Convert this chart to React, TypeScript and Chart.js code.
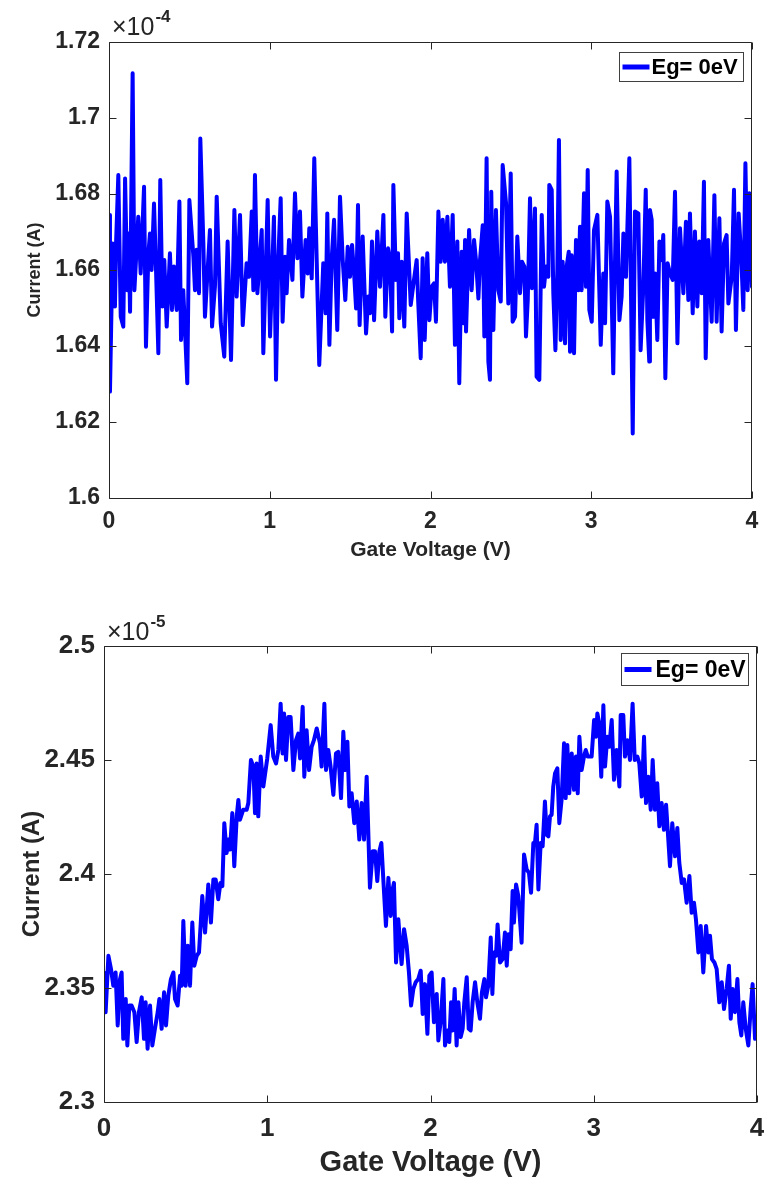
import React, { useEffect, useRef } from "react";
import { Chart, registerables } from "chart.js";

Chart.register(...registerables);

// ---------- DATA ----------
// Top panel: current in units of 1e-4 A
const topVoltage = [
  0, 0.006, 0.023, 0.037, 0.044, 0.058, 0.073, 0.089, 0.1, 0.114, 0.122, 0.131, 0.147, 0.158, 0.182, 0.197, 0.218, 0.23, 0.245, 0.255,
  0.265, 0.28, 0.292, 0.307, 0.319, 0.332, 0.344, 0.359, 0.379, 0.392, 0.404, 0.421, 0.438, 0.448, 0.462, 0.487, 0.5, 0.525, 0.535, 0.545,
  0.56, 0.568, 0.587, 0.597, 0.628, 0.641, 0.659, 0.67, 0.695, 0.717, 0.738, 0.759, 0.78, 0.794, 0.815, 0.832, 0.856, 0.871, 0.888, 0.898,
  0.908, 0.923, 0.95, 0.96, 0.987, 1.002, 1.026, 1.039, 1.053, 1.068, 1.08, 1.095, 1.105, 1.12, 1.141, 1.157, 1.172, 1.188, 1.203, 1.223,
  1.236, 1.246, 1.261, 1.277, 1.292, 1.308, 1.333, 1.348, 1.358, 1.371, 1.385, 1.4, 1.42, 1.437, 1.454, 1.47, 1.485, 1.499, 1.512, 1.526,
  1.537, 1.549, 1.559, 1.578, 1.599, 1.613, 1.624, 1.636, 1.649, 1.669, 1.686, 1.707, 1.719, 1.736, 1.748, 1.761, 1.769, 1.785, 1.798, 1.806,
  1.821, 1.837, 1.852, 1.877, 1.897, 1.914, 1.924, 1.939, 1.951, 1.964, 1.98, 1.993, 2.007, 2.022, 2.034, 2.049, 2.063, 2.076, 2.09, 2.105,
  2.121, 2.138, 2.152, 2.167, 2.179, 2.194, 2.204, 2.215, 2.221, 2.24, 2.256, 2.271, 2.283, 2.298, 2.308, 2.325, 2.335, 2.349, 2.36, 2.37,
  2.378, 2.391, 2.407, 2.422, 2.437, 2.449, 2.47, 2.484, 2.499, 2.511, 2.526, 2.54, 2.557, 2.569, 2.584, 2.594, 2.605, 2.619, 2.631, 2.65,
  2.66, 2.677, 2.692, 2.706, 2.719, 2.733, 2.739, 2.754, 2.764, 2.777, 2.789, 2.799, 2.81, 2.822, 2.837, 2.847, 2.86, 2.868, 2.878, 2.893,
  2.905, 2.92, 2.93, 2.94, 2.955, 2.967, 2.978, 2.988, 3.003, 3.017, 3.038, 3.059, 3.075, 3.086, 3.1, 3.117, 3.137, 3.148, 3.158, 3.175,
  3.189, 3.2, 3.216, 3.237, 3.258, 3.272, 3.293, 3.307, 3.324, 3.339, 3.349, 3.361, 3.365, 3.376, 3.386, 3.397, 3.411, 3.424, 3.438, 3.448,
  3.461, 3.475, 3.49, 3.507, 3.521, 3.536, 3.552, 3.573, 3.589, 3.604, 3.614, 3.631, 3.645, 3.66, 3.672, 3.687, 3.701, 3.712, 3.728, 3.749,
  3.766, 3.78, 3.797, 3.811, 3.826, 3.842, 3.853, 3.874, 3.888, 3.9, 3.917, 3.934, 3.946, 3.959, 3.973, 3.983, 4.0,
];
const topCurrent = [
  1.6745, 1.628, 1.667, 1.6504, 1.667, 1.685, 1.6477, 1.6451, 1.6841, 1.6547, 1.6696, 1.649, 1.7118, 1.6547, 1.674, 1.6591, 1.6819, 1.6398, 1.6644, 1.6696,
  1.66, 1.6775, 1.6609, 1.6381, 1.6837, 1.6504, 1.6626, 1.6451, 1.6644, 1.6495, 1.6609, 1.6495, 1.678, 1.6416, 1.6547, 1.6302, 1.6784, 1.6635, 1.6547, 1.6653,
  1.6539, 1.6946, 1.667, 1.6477, 1.6705, 1.6451, 1.6556, 1.6793, 1.646, 1.6372, 1.6675, 1.6363, 1.6758, 1.653, 1.6745, 1.6455, 1.6618, 1.6582, 1.6754, 1.6547,
  1.685, 1.6539, 1.6705, 1.6381, 1.6784, 1.6425, 1.674, 1.6311, 1.6626, 1.6789, 1.6464, 1.6635, 1.6539, 1.6679, 1.6574, 1.6802, 1.6631, 1.6754, 1.653, 1.6679,
  1.6591, 1.671, 1.6578, 1.6894, 1.6626, 1.635, 1.6618, 1.6486, 1.6749, 1.6403, 1.6626, 1.6732, 1.6442, 1.6793, 1.6626, 1.6521, 1.6661, 1.6582, 1.6666, 1.6582,
  1.6499, 1.6771, 1.6455, 1.6688, 1.6433, 1.653, 1.6486, 1.6675, 1.6468, 1.6701, 1.6556, 1.6745, 1.6477, 1.6657, 1.6626, 1.6438, 1.6824, 1.6574, 1.6644, 1.6473,
  1.6622, 1.6451, 1.6749, 1.6508, 1.6574, 1.6626, 1.6512, 1.6368, 1.6631, 1.6416, 1.6644, 1.6468, 1.6556, 1.6565, 1.6464, 1.6754, 1.6622, 1.6732, 1.6622, 1.674,
  1.6556, 1.6745, 1.6403, 1.6675, 1.6302, 1.6648, 1.646, 1.6679, 1.6438, 1.6705, 1.6547, 1.6679, 1.6626, 1.6525, 1.6626, 1.6718, 1.6425, 1.6894, 1.6359, 1.6311,
  1.6806, 1.6442, 1.6758, 1.6547, 1.6517, 1.6876, 1.6775, 1.6512, 1.6854, 1.6464, 1.6477, 1.6688, 1.6539, 1.6622, 1.6609, 1.6425, 1.6521, 1.6789, 1.6552, 1.6762,
  1.6319, 1.6311, 1.6745, 1.6556, 1.6609, 1.6582, 1.6824, 1.6811, 1.6539, 1.6389, 1.66, 1.6942, 1.6416, 1.6622, 1.6407, 1.6609, 1.6648, 1.6385, 1.6639, 1.6381,
  1.6679, 1.6547, 1.6714, 1.6547, 1.6802, 1.6556, 1.6863, 1.6495, 1.6464, 1.6705, 1.6745, 1.6403, 1.6591, 1.646, 1.678, 1.674, 1.6328, 1.6626, 1.6859, 1.6468,
  1.653, 1.6696, 1.6582, 1.6894, 1.617, 1.6754, 1.6749, 1.6389, 1.6556, 1.6811, 1.6468, 1.6359, 1.6758, 1.6732, 1.6477, 1.6591, 1.6416, 1.6675, 1.6626, 1.6692,
  1.6315, 1.6618, 1.6591, 1.6574, 1.6806, 1.6407, 1.671, 1.6539, 1.6727, 1.6521, 1.6749, 1.6486, 1.6701, 1.6504, 1.6675, 1.6539, 1.6832, 1.6368, 1.6679, 1.6464,
  1.6797, 1.6464, 1.6736, 1.6438, 1.667, 1.6692, 1.6512, 1.6582, 1.6811, 1.6442, 1.6749, 1.6626, 1.6495, 1.6881, 1.6547, 1.6802, 1.6556,
];

// Bottom panel: current in units of 1e-5 A
const bottomVoltage = [
  0, 0.01, 0.027, 0.043, 0.057, 0.071, 0.084, 0.098, 0.108, 0.118, 0.133, 0.143, 0.155, 0.169, 0.186, 0.2, 0.214, 0.231, 0.245, 0.255,
  0.267, 0.282, 0.296, 0.312, 0.329, 0.339, 0.353, 0.368, 0.38, 0.394, 0.41, 0.425, 0.435, 0.451, 0.466, 0.476, 0.486, 0.5, 0.513, 0.527,
  0.541, 0.553, 0.568, 0.582, 0.594, 0.602, 0.619, 0.639, 0.655, 0.67, 0.684, 0.7, 0.713, 0.725, 0.737, 0.751, 0.762, 0.772, 0.786, 0.798,
  0.813, 0.823, 0.833, 0.853, 0.874, 0.884, 0.9, 0.915, 0.925, 0.935, 0.945, 0.96, 0.976, 1.0, 1.021, 1.037, 1.054, 1.068, 1.082, 1.094,
  1.103, 1.115, 1.129, 1.143, 1.16, 1.176, 1.19, 1.201, 1.217, 1.227, 1.241, 1.256, 1.272, 1.286, 1.303, 1.323, 1.333, 1.35, 1.36, 1.374,
  1.388, 1.405, 1.421, 1.435, 1.452, 1.466, 1.478, 1.491, 1.503, 1.517, 1.533, 1.548, 1.564, 1.578, 1.593, 1.609, 1.629, 1.646, 1.66, 1.674,
  1.687, 1.699, 1.711, 1.727, 1.742, 1.756, 1.768, 1.776, 1.789, 1.803, 1.813, 1.823, 1.838, 1.854, 1.868, 1.881, 1.895, 1.909, 1.925, 1.94,
  1.952, 1.966, 1.981, 1.993, 2.007, 2.021, 2.038, 2.048, 2.062, 2.079, 2.089, 2.103, 2.115, 2.126, 2.136, 2.148, 2.16, 2.171, 2.185, 2.197,
  2.207, 2.222, 2.234, 2.246, 2.258, 2.273, 2.287, 2.303, 2.315, 2.33, 2.34, 2.354, 2.369, 2.379, 2.389, 2.401, 2.411, 2.426, 2.442, 2.456,
  2.467, 2.477, 2.491, 2.503, 2.511, 2.524, 2.538, 2.558, 2.573, 2.589, 2.603, 2.616, 2.63, 2.64, 2.65, 2.661, 2.675, 2.687, 2.701, 2.712,
  2.722, 2.732, 2.742, 2.752, 2.763, 2.777, 2.789, 2.803, 2.818, 2.828, 2.838, 2.85, 2.865, 2.879, 2.891, 2.902, 2.912, 2.926, 2.94, 2.951,
  2.963, 2.987, 3.002, 3.014, 3.022, 3.034, 3.046, 3.059, 3.069, 3.083, 3.095, 3.11, 3.124, 3.14, 3.157, 3.165, 3.181, 3.191, 3.206, 3.222,
  3.238, 3.251, 3.267, 3.279, 3.294, 3.308, 3.32, 3.334, 3.349, 3.361, 3.375, 3.389, 3.402, 3.416, 3.43, 3.443, 3.453, 3.467, 3.481, 3.498,
  3.512, 3.524, 3.539, 3.553, 3.569, 3.586, 3.6, 3.614, 3.626, 3.641, 3.655, 3.671, 3.688, 3.702, 3.712, 3.724, 3.739, 3.753, 3.769, 3.784,
  3.798, 3.814, 3.828, 3.839, 3.851, 3.865, 3.88, 3.892, 3.904, 3.916, 3.931, 3.947, 3.961, 3.973, 3.988, 4.0,
];
const bottomCurrent = [
  2.3568, 2.3394, 2.3641, 2.3583, 2.351, 2.3568, 2.3336, 2.3539, 2.3568, 2.3277, 2.3452, 2.3248, 2.3423, 2.3423, 2.3394, 2.3263, 2.3394, 2.3459, 2.3277, 2.3437,
  2.3234, 2.3423, 2.3248, 2.3321, 2.3394, 2.3452, 2.3321, 2.3481, 2.3336, 2.3467, 2.3539, 2.3568, 2.3452, 2.3423, 2.3554, 2.351, 2.3794, 2.351, 2.3685, 2.351,
  2.3787, 2.3598, 2.3641, 2.3656, 2.3801, 2.3903, 2.3743, 2.3954, 2.3787, 2.3976, 2.3976, 2.3889, 2.3961, 2.3947, 2.4223, 2.4092, 2.4151, 2.4107, 2.4267, 2.4034,
  2.4253, 2.4325, 2.4238, 2.4282, 2.4282, 2.4311, 2.45, 2.4471, 2.4267, 2.4485, 2.4253, 2.4515, 2.4384, 2.4507, 2.4653, 2.4515, 2.4485, 2.4544, 2.4747, 2.4529,
  2.4704, 2.45, 2.4689, 2.4689, 2.4456, 2.4587, 2.4616, 2.4507, 2.4733, 2.4427, 2.4631, 2.4456, 2.4558, 2.4587, 2.4638, 2.4573, 2.4471, 2.4747, 2.4456, 2.4544,
  2.4471, 2.4347, 2.4529, 2.4536, 2.4333, 2.4624, 2.4456, 2.458, 2.4296, 2.4354, 2.4223, 2.4318, 2.4151, 2.4311, 2.4151, 2.4427, 2.394, 2.41, 2.41, 2.3969,
  2.41, 2.4136, 2.3976, 2.3772, 2.3983, 2.3816, 2.3932, 2.3961, 2.3612, 2.3801, 2.3699, 2.3605, 2.3758, 2.3685, 2.3568, 2.3423, 2.3496, 2.3525, 2.3539, 2.3576,
  2.3386, 2.3517, 2.3299, 2.3554, 2.3568, 2.335, 2.3474, 2.327, 2.335, 2.3539, 2.3248, 2.3314, 2.3263, 2.3437, 2.3314, 2.3496, 2.3248, 2.3437, 2.3285, 2.3321,
  2.3437, 2.3547, 2.3321, 2.3314, 2.3437, 2.3525, 2.3437, 2.3365, 2.3481, 2.3539, 2.3459, 2.351, 2.3721, 2.3474, 2.3656, 2.3641, 2.3779, 2.3612, 2.3627, 2.3743,
  2.3598, 2.3736, 2.367, 2.3925, 2.3787, 2.3954, 2.3903, 2.3699, 2.4085, 2.402, 2.4005, 2.3918, 2.4136, 2.4136, 2.4216, 2.3932, 2.4136, 2.4122, 2.4318, 2.4172,
  2.4165, 2.4253, 2.426, 2.4384, 2.4442, 2.4464, 2.4223, 2.4325, 2.4573, 2.4333, 2.4566, 2.4354, 2.4529, 2.4369, 2.4515, 2.4354, 2.4602, 2.4456, 2.4515, 2.4544,
  2.4515, 2.4515, 2.4675, 2.4602, 2.4704, 2.466, 2.4427, 2.474, 2.4471, 2.4602, 2.4558, 2.4675, 2.4413, 2.4544, 2.4384, 2.4697, 2.4697, 2.4515, 2.4587, 2.45,
  2.4747, 2.45, 2.4515, 2.4485, 2.434, 2.4602, 2.4311, 2.4427, 2.4282, 2.45, 2.4282, 2.4398, 2.4209, 2.4311, 2.4194, 2.4304, 2.4194, 2.4034, 2.4223, 2.4078,
  2.4202, 2.4049, 2.3961, 2.3976, 2.3874, 2.3991, 2.383, 2.3874, 2.3801, 2.3656, 2.3772, 2.3568, 2.3772, 2.3656, 2.3729, 2.3627, 2.3612, 2.3583, 2.3437, 2.3525,
  2.3408, 2.3496, 2.3598, 2.3365, 2.3496, 2.3394, 2.3539, 2.335, 2.3292, 2.3437, 2.3321, 2.3248, 2.3408, 2.3517, 2.3277, 2.3321,
];

const xTicks = [0, 1, 2, 3, 4];
const xTickLabels = ["0", "1", "2", "3", "4"];
const topYTicks = [1.6, 1.62, 1.64, 1.66, 1.68, 1.7, 1.72];
const topYTickLabels = ["1.6", "1.62", "1.64", "1.66", "1.68", "1.7", "1.72"];
const bottomYTicks = [2.3, 2.35, 2.4, 2.45, 2.5];
const bottomYTickLabels = ["2.3", "2.35", "2.4", "2.45", "2.5"];
const seriesLabel = "Eg= 0eV";
const xTitle = "Gate Voltage (V)";
const yTitle = "Current (A)";
const topExponent = "-4";
const bottomExponent = "-5";

// ---------- STYLE ----------
const FONT = "'Liberation Sans', Arial, Helvetica, sans-serif";
const AXIS_COLOR = "#262626";
const LINE_COLOR = "#0000ff";

const matlabPlugin = {
  id: "matlabAxes",
  afterDraw(chart: any) {
    const o = chart.options.plugins.matlabAxes;
    const { ctx, chartArea: a } = chart;
    const xS = chart.scales.x;
    const yS = chart.scales.y;
    const L = Math.round(a.left) + 0.5;
    const R = Math.round(a.right) - 0.5;
    const T = Math.round(a.top) + 0.5;
    const B = Math.round(a.bottom) + 0.5;
    ctx.save();
    ctx.strokeStyle = AXIS_COLOR;
    ctx.lineWidth = 1;
    ctx.beginPath();
    ctx.rect(L, T, R - L, B - T);
    xS.ticks.forEach((t: any) => {
      const p = Math.round(xS.getPixelForValue(t.value)) + 0.5;
      ctx.moveTo(p, B);
      ctx.lineTo(p, B - o.tickLen);
      ctx.moveTo(p, T);
      ctx.lineTo(p, T + o.tickLen);
    });
    yS.ticks.forEach((t: any) => {
      const p = Math.round(yS.getPixelForValue(t.value)) + 0.5;
      ctx.moveTo(L, p);
      ctx.lineTo(L + o.tickLen, p);
      ctx.moveTo(R, p);
      ctx.lineTo(R - o.tickLen, p);
    });
    ctx.stroke();

    // exponent label
    ctx.fillStyle = AXIS_COLOR;
    ctx.textAlign = "left";
    ctx.textBaseline = "alphabetic";
    ctx.font = `${o.expSize}px ${FONT}`;
    const base = "\u00d710";
    const ex = a.left + o.expDx;
    const ey = a.top - o.expDy;
    ctx.fillText(base, ex, ey);
    const bw = ctx.measureText(base).width;
    ctx.font = `bold ${o.supSize}px ${FONT}`;
    ctx.fillText(o.exponent, ex + bw + 1, ey - o.supRise);

    // legend
    const ds = chart.data.datasets[0];
    ctx.font = `bold ${o.legendSize}px ${FONT}`;
    const tw = ctx.measureText(ds.label).width;
    const sample = 27;
    const boxW = Math.round(3 + sample + o.legendGap + tw + o.legendPadR);
    const bx = Math.round(a.right - o.legendRight - boxW) + 0.5;
    const by = Math.round(a.top + o.legendTop) + 0.5;
    ctx.fillStyle = "#ffffff";
    ctx.fillRect(bx, by, boxW, o.legendH);
    ctx.strokeStyle = "#404040";
    ctx.lineWidth = 1;
    ctx.strokeRect(bx, by, boxW, o.legendH);
    const cy = by + o.legendH / 2;
    ctx.strokeStyle = ds.borderColor;
    ctx.lineWidth = o.legendLineW;
    ctx.beginPath();
    ctx.moveTo(bx + 3, cy);
    ctx.lineTo(bx + 3 + sample, cy);
    ctx.stroke();
    ctx.fillStyle = "#000000";
    ctx.textBaseline = "middle";
    ctx.fillText(ds.label, bx + 3 + sample + o.legendGap, cy + 1);
    ctx.restore();
  },
};

type PanelSpec = {
  xs: number[];
  ys: number[];
  yMin: number;
  yMax: number;
  yTicks: number[];
  yTickLabels: string[];
  width: number;
  height: number;
  padding: { left: number; top: number; right: number; bottom: number };
  yAxisWidth: number;
  xAxisHeight: number;
  tickFont: number;
  xTickPad: number;
  yTickPad: number;
  xTitleFont: number;
  yTitleFont: number;
  lineWidth: number;
  frame: any;
};

function Panel({ spec }: { spec: PanelSpec }) {
  const ref = useRef<HTMLCanvasElement | null>(null);
  useEffect(() => {
    if (!ref.current) return;
    const points = spec.xs.map((x, i) => ({ x, y: spec.ys[i] }));
    const chart = new Chart(ref.current, {
      type: "line",
      data: {
        datasets: [
          {
            label: seriesLabel,
            data: points,
            borderColor: LINE_COLOR,
            backgroundColor: LINE_COLOR,
            borderWidth: spec.lineWidth,
            pointRadius: 0,
            tension: 0,
            borderJoinStyle: "round",
            borderCapStyle: "round",
            fill: false,
          },
        ],
      },
      options: {
        animation: false,
        responsive: false,
        devicePixelRatio: 1,
        layout: { padding: spec.padding },
        plugins: {
          legend: { display: false },
          tooltip: { enabled: false },
          matlabAxes: spec.frame,
        } as any,
        scales: {
          x: {
            type: "linear",
            position: "bottom",
            min: 0,
            max: 4,
            afterBuildTicks: (s: any) => {
              s.ticks = xTicks.map((v) => ({ value: v }));
            },
            afterFit: (s: any) => {
              s.height = spec.xAxisHeight;
              s.paddingLeft = 0;
              s.paddingRight = 0;
            },
            ticks: {
              autoSkip: false,
              maxRotation: 0,
              padding: spec.xTickPad,
              color: AXIS_COLOR,
              font: { family: FONT, size: spec.tickFont, weight: "bold" },
              callback: (_v: any, i: number) => xTickLabels[i],
            },
            grid: { display: false, drawTicks: false },
            border: { display: false },
            title: {
              display: true,
              text: xTitle,
              color: AXIS_COLOR,
              padding: 0,
              font: { family: FONT, size: spec.xTitleFont, weight: "bold", lineHeight: 1.2 },
            },
          },
          y: {
            type: "linear",
            position: "left",
            min: spec.yMin,
            max: spec.yMax,
            afterBuildTicks: (s: any) => {
              s.ticks = spec.yTicks.map((v) => ({ value: v }));
            },
            afterFit: (s: any) => {
              s.width = spec.yAxisWidth;
              s.paddingTop = 0;
              s.paddingBottom = 0;
            },
            ticks: {
              autoSkip: false,
              padding: spec.yTickPad,
              color: AXIS_COLOR,
              font: { family: FONT, size: spec.tickFont, weight: "bold" },
              callback: (_v: any, i: number) => spec.yTickLabels[i],
            },
            grid: { display: false, drawTicks: false },
            border: { display: false },
            title: {
              display: true,
              text: yTitle,
              color: AXIS_COLOR,
              padding: 0,
              font: { family: FONT, size: spec.yTitleFont, weight: "bold", lineHeight: 1.2 },
            },
          },
        } as any,
      },
      plugins: [matlabPlugin as any],
    });
    return () => chart.destroy();
  }, [spec]);
  return (
    <canvas
      ref={ref}
      width={spec.width}
      height={spec.height}
      style={{ display: "block", width: spec.width, height: spec.height }}
    />
  );
}

const topSpec: PanelSpec = {
  xs: topVoltage,
  ys: topCurrent,
  yMin: 1.6,
  yMax: 1.72,
  yTicks: topYTicks,
  yTickLabels: topYTickLabels,
  width: 764,
  height: 590,
  padding: { left: 24, top: 42, right: 12, bottom: 27 },
  yAxisWidth: 85,
  xAxisHeight: 65,
  tickFont: 23,
  xTickPad: 10,
  yTickPad: 9,
  xTitleFont: 21,
  yTitleFont: 18,
  lineWidth: 4,
  frame: {
    tickLen: 7,
    exponent: topExponent,
    expSize: 25,
    supSize: 17,
    expDx: 3,
    expDy: 7,
    supRise: 13,
    legendSize: 22,
    legendRight: 9,
    legendTop: 10,
    legendH: 29,
    legendGap: 2,
    legendPadR: 6,
    legendLineW: 5,
  },
};

const bottomSpec: PanelSpec = {
  xs: bottomVoltage,
  ys: bottomCurrent,
  yMin: 2.3,
  yMax: 2.5,
  yTicks: bottomYTicks,
  yTickLabels: bottomYTickLabels,
  width: 764,
  height: 591,
  padding: { left: 18, top: 56, right: 7, bottom: 1 },
  yAxisWidth: 86,
  xAxisHeight: 78,
  tickFont: 26,
  xTickPad: 11,
  yTickPad: 9,
  xTitleFont: 29,
  yTitleFont: 24,
  lineWidth: 4,
  frame: {
    tickLen: 7,
    exponent: bottomExponent,
    expSize: 25,
    supSize: 17,
    expDx: 3,
    expDy: 6,
    supRise: 13,
    legendSize: 23,
    legendRight: 9,
    legendTop: 7,
    legendH: 32,
    legendGap: 4,
    legendPadR: 3,
    legendLineW: 5,
  },
};

export default function App() {
  return (
    <div
      style={{
        position: "absolute",
        left: 0,
        top: 0,
        width: 764,
        height: 1181,
        background: "#ffffff",
        overflow: "hidden",
      }}
    >
      <Panel spec={topSpec} />
      <Panel spec={bottomSpec} />
    </div>
  );
}
